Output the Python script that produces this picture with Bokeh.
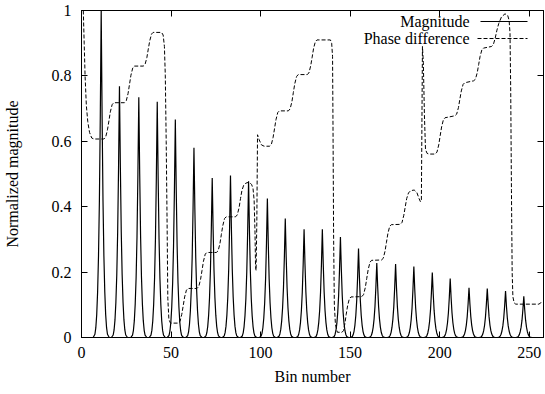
from bokeh.plotting import figure
from bokeh.models import Range1d, LinearAxis, FixedTicker, Label, Arrow, ColumnDataSource, CustomJSTickFormatter
from bokeh.embed import file_html
from bokeh.resources import INLINE

FONT = "Liberation Serif"

# ---------------- data ----------------
# magnitude peaks: bin position and normalized height
peak_bin = [11.0, 21.2, 32.0, 42.3, 52.4, 62.8, 73.0, 83.2, 93.3, 103.8, 113.8, 124.3,
            134.5, 144.6, 154.7, 164.9, 175.4, 185.6, 195.9, 205.9, 216.4, 226.6, 236.8, 247.0]
peak_height = [1.0, 0.768, 0.735, 0.721, 0.667, 0.580, 0.488, 0.495, 0.478, 0.425, 0.364, 0.331,
               0.331, 0.307, 0.272, 0.228, 0.225, 0.217, 0.199, 0.180, 0.152, 0.150, 0.142, 0.126]
# shape of one peak (offset in bins, fraction of peak height)
peak_offset = [-4.5, -3.5, -3.0, -2.5, -2.0, -1.5, -1.0, -0.5, 0.0, 0.5, 1.0, 1.5, 2.0, 2.5, 3.0, 3.5, 4.5]
peak_shape = [0.0, 0.01, 0.03, 0.07, 0.14, 0.25, 0.42, 0.68, 1.0, 0.68, 0.42, 0.25, 0.14, 0.07, 0.03, 0.01, 0.0]
bin_start, bin_end = 0, 258

# phase difference curve (bin, value)
phase_bin = [1, 1.5, 2, 2.7, 3.5, 4.5, 5.7, 7, 12.5, 13.5, 14.5, 15.3, 16.1, 17.1, 18,
             24, 25, 26, 26.8, 27.6, 28.6, 29.5,
             34.5, 35.5, 36.5, 37.3, 38.1, 39.1, 40,
             44.7, 45.6, 46.3, 46.8, 47.3, 47.8, 48.2, 48.8, 49.7,
             54, 55, 56, 56.8, 57.6, 58.6, 59.5,
             64.5, 65.5, 66.5, 67.3, 68.1, 69.1, 70,
             75.3, 76.3, 77.3, 78.1, 78.9, 79.9, 80.8,
             86, 87, 88, 88.8, 89.6, 90.6, 91.8, 93.5, 95, 95.8, 96.4, 96.9, 97.2, 97.5, 97.9, 98.3,
             99.2, 100.5, 102,
             105, 106, 107, 107.8, 108.6, 109.6, 110.5,
             115.5, 116.5, 117.5, 118.3, 119.1, 120.1, 121,
             126, 127, 128, 128.8, 129.6, 130.6, 131.5,
             139, 139.7, 140.2, 140.5, 140.8, 141.2, 141.8, 142.9,
             145.5, 146.3, 147.1, 147.8, 148.6, 149.6, 150.5,
             156.5, 157.5, 158.5, 159.3, 160.1, 161.1, 162,
             167.5, 168.5, 169.5, 170.3, 171.1, 172.1, 173,
             178, 179, 180, 180.8, 181.6, 182.6, 183.8, 185.8, 187.3, 188.5, 189.3, 189.8, 190.1, 190.4,
             190.9, 191.5, 192.1, 193, 194,
             197.5, 198.5, 199.5, 200.3, 201.1, 202.1, 203,
             208.5, 209.5, 210.5, 211.3, 212.1, 213.1, 214,
             219, 220, 221, 221.8, 222.6, 223.6, 224.5,
             229, 230, 231, 232, 233, 234.5, 236.5, 238, 238.8, 239.3, 239.7, 240.1, 240.5, 240.9,
             241.6, 242.5, 255.4, 256.5, 257.3]
phase_val = [1.0, 0.90, 0.80, 0.71, 0.66, 0.627, 0.610, 0.607, 0.607, 0.613, 0.635, 0.662, 0.690, 0.712, 0.718,
             0.718, 0.724, 0.746, 0.774, 0.802, 0.824, 0.830,
             0.830, 0.835, 0.856, 0.882, 0.907, 0.928, 0.933,
             0.933, 0.925, 0.89, 0.80, 0.60, 0.35, 0.12, 0.055, 0.044,
             0.044, 0.049, 0.071, 0.097, 0.124, 0.145, 0.150,
             0.150, 0.156, 0.178, 0.205, 0.233, 0.255, 0.260,
             0.260, 0.265, 0.287, 0.315, 0.342, 0.364, 0.369,
             0.369, 0.375, 0.397, 0.425, 0.450, 0.466, 0.472, 0.475, 0.468, 0.455, 0.42, 0.32, 0.215, 0.205, 0.35, 0.62,
             0.605, 0.589, 0.585,
             0.585, 0.590, 0.612, 0.639, 0.666, 0.688, 0.693,
             0.693, 0.699, 0.721, 0.749, 0.776, 0.798, 0.804,
             0.804, 0.809, 0.831, 0.857, 0.884, 0.905, 0.910,
             0.910, 0.900, 0.860, 0.60, 0.30, 0.10, 0.04, 0.016,
             0.016, 0.021, 0.043, 0.070, 0.097, 0.119, 0.124,
             0.125, 0.131, 0.153, 0.181, 0.208, 0.230, 0.236,
             0.237, 0.242, 0.264, 0.291, 0.318, 0.340, 0.345,
             0.346, 0.352, 0.374, 0.400, 0.425, 0.442, 0.449, 0.451, 0.443, 0.425, 0.415, 0.42, 0.65, 0.89,
             0.84, 0.68, 0.575, 0.563, 0.561,
             0.561, 0.567, 0.589, 0.617, 0.644, 0.666, 0.672,
             0.678, 0.683, 0.703, 0.729, 0.754, 0.774, 0.779,
             0.785, 0.790, 0.810, 0.835, 0.860, 0.880, 0.885,
             0.890, 0.896, 0.915, 0.940, 0.960, 0.980, 0.990, 0.985, 0.970, 0.930, 0.75, 0.45, 0.20, 0.125,
             0.106, 0.102, 0.102, 0.106, 0.111]

x_ticks = [0, 50, 100, 150, 200, 250]
x_tick_labels = ["0", "50", "100", "150", "200", "250"]
y_ticks = [0, 0.2, 0.4, 0.6, 0.8, 1]
y_tick_labels = ["0", "0.2", "0.4", "0.6", "0.8", "1"]
series_names = ["Magnitude", "Phase difference"]

# ---------------- build magnitude polyline table ----------------
mag_x = [bin_start]
mag_y = [0.0]
for c, h in zip(peak_bin, peak_height):
    for off, s in zip(peak_offset, peak_shape):
        mag_x.append(c + off)
        mag_y.append(h * s)
mag_x.append(bin_end)
mag_y.append(0.0)

mag_src = ColumnDataSource(data=dict(x=mag_x, y=mag_y))
ph_src = ColumnDataSource(data=dict(x=phase_bin, y=phase_val))

# ---------------- figure ----------------
p = figure(width=545, height=394, output_backend="svg", toolbar_location=None,
           x_range=Range1d(bin_start, bin_end), y_range=Range1d(0, 1),
           min_border_left=79, min_border_right=2, min_border_top=10, min_border_bottom=57,
           x_axis_label="Bin number", y_axis_label="Normalized magnitude")
p.xgrid.visible = False
p.ygrid.visible = False
p.outline_line_color = "black"
p.outline_line_width = 1
p.background_fill_color = "white"
p.border_fill_color = "white"

p.line("x", "y", source=mag_src, line_color="black", line_width=1.2)
p.line("x", "y", source=ph_src, line_color="black", line_width=1.0, line_dash="4 2")


def style_axis(ax, ticks, labels):
    ax.ticker = FixedTicker(ticks=ticks)
    ax.major_label_overrides = dict(zip(ticks, labels))
    ax.major_tick_in = 6
    ax.major_tick_out = 0
    ax.minor_tick_in = 0
    ax.minor_tick_out = 0
    ax.axis_line_color = "black"
    ax.major_tick_line_color = "black"
    ax.major_label_text_font = FONT
    ax.major_label_text_font_size = "16px"
    ax.major_label_text_color = "black"
    ax.axis_label_text_font = FONT
    ax.axis_label_text_font_size = "16px"
    ax.axis_label_text_font_style = "normal"
    ax.axis_label_text_color = "black"


style_axis(p.xaxis[0], x_ticks, x_tick_labels)
style_axis(p.yaxis[0], y_ticks, y_tick_labels)
p.xaxis[0].major_label_standoff = 9
p.xaxis[0].axis_label_standoff = 7
p.yaxis[0].major_label_standoff = 10
p.yaxis[0].axis_label_standoff = 28

# mirrored ticks on top and right
for loc, ticks in (("above", x_ticks), ("right", y_ticks)):
    ax = LinearAxis(ticker=FixedTicker(ticks=ticks),
                    formatter=CustomJSTickFormatter(code="return ''"),
                    major_tick_in=6, major_tick_out=0, minor_tick_in=0, minor_tick_out=0,
                    major_label_text_font_size="0px", major_label_standoff=0,
                    axis_line_color="black", major_tick_line_color="black")
    p.add_layout(ax, loc)

# gnuplot-style key: text right-aligned, sample to the right
key_y = [316, 299]
key_dash = ["solid", "4 2"]
key_sample_start = [399, 396]
for name, ky, dash, xs in zip(series_names, key_y, key_dash, key_sample_start):
    p.add_layout(Label(x=388, y=ky, x_units="screen", y_units="screen", text=name,
                       text_align="right", text_baseline="middle", text_font=FONT,
                       text_font_size="16px", text_color="black"))
    p.add_layout(Arrow(end=None, x_start=xs, y_start=ky, x_end=446, y_end=ky,
                       start_units="screen", end_units="screen",
                       line_color="black", line_width=1.0, line_dash=dash))

open("out.html", "w").write(file_html(p, INLINE))
